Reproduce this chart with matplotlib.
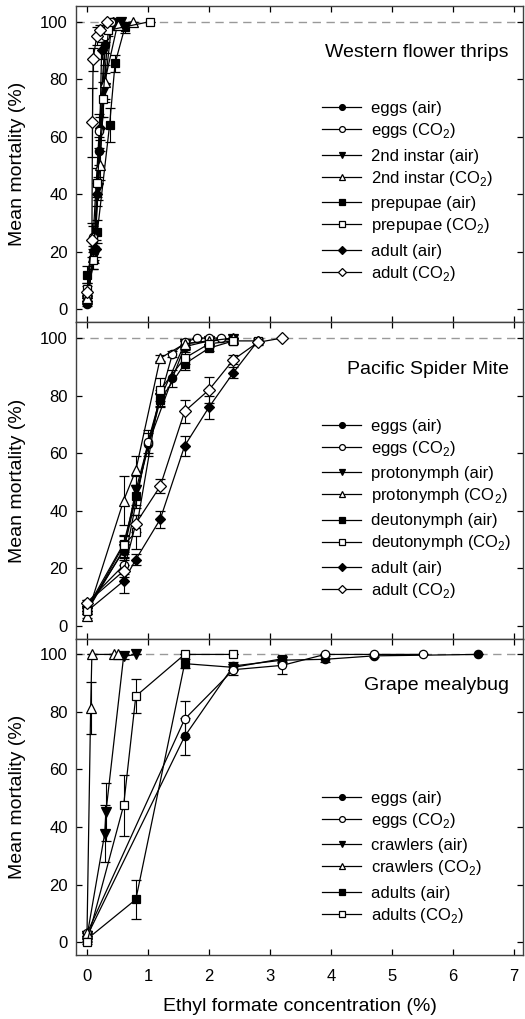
import matplotlib
matplotlib.use("Agg")
from matplotlib import pyplot as plt
from matplotlib.legend import Legend
from matplotlib.lines import Line2D

plt.rcParams['font.family'] = ['Liberation Sans', 'DejaVu Sans']
plt.rcParams['mathtext.fontset'] = 'custom'
plt.rcParams['mathtext.rm'] = 'Liberation Sans'

# ---- Western flower thrips ----
wft_title = 'Western flower thrips'
wft_labels = ['eggs (air)', 'eggs (CO$_2$)', '2nd instar (air)', '2nd instar (CO$_2$)',
              'prepupae (air)', 'prepupae (CO$_2$)', 'adult (air)', 'adult (CO$_2$)']
wft_x = [[0, 0.12, 0.2, 0.3, 0.45],
         [0, 0.1, 0.2, 0.3, 0.4],
         [0, 0.12, 0.18, 0.29, 0.4, 0.55],
         [0, 0.1, 0.21, 0.29, 0.5, 0.75],
         [0, 0.17, 0.37, 0.46, 0.62],
         [0, 0.1, 0.17, 0.26, 0.35, 1.03],
         [0, 0.14, 0.17, 0.21, 0.24, 0.43],
         [0, 0.08, 0.09, 0.1, 0.16, 0.21, 0.32]]
wft_y = [[2, 20, 55, 92, 100],
         [5, 25, 62, 95, 100],
         [3, 19, 42, 77, 98, 100],
         [4, 18, 50, 79, 99, 100],
         [12, 27, 64, 85.5, 98],
         [7, 17, 44, 73, 97, 100],
         [3, 21, 40, 63, 90, 100],
         [6, 24, 65, 87, 95, 97, 100]]
wft_err = [[1, 3, 5, 3, 0],
           [1, 4, 6, 2, 0],
           [1, 3, 4, 5, 1, 0],
           [1, 4, 5, 6, 1, 0],
           [3, 4, 6, 3, 2],
           [2, 3, 5, 6, 2, 0],
           [1, 3, 4, 4, 3, 0],
           [2, 6, 12, 4, 3, 2, 0]]

# ---- Pacific spider mite ----
psm_title = 'Pacific Spider Mite'
psm_labels = ['eggs (air)', 'eggs (CO$_2$)', 'protonymph (air)', 'protonymph (CO$_2$)',
              'deutonymph (air)', 'deutonymph (CO$_2$)', 'adult (air)', 'adult (CO$_2$)']
psm_x = [[0, 0.6, 1.0, 1.4, 1.6, 2.0, 2.4],
         [0, 0.6, 1.0, 1.4, 1.6, 1.8, 2.0, 2.2],
         [0, 0.6, 0.8, 1.2, 1.6, 2.0, 2.4],
         [0, 0.6, 0.8, 1.2, 1.6, 2.0, 2.4],
         [0, 0.6, 0.8, 1.2, 1.6, 2.0, 2.4],
         [0, 0.6, 0.8, 1.2, 1.6, 2.0, 2.4, 2.8],
         [0, 0.6, 0.8, 1.2, 1.6, 2.0, 2.4, 2.8],
         [0, 0.6, 0.8, 1.2, 1.6, 2.0, 2.4, 2.8, 3.2]]
psm_y = [[6, 26, 63, 86, 97, 99, 100],
         [8, 21, 64, 94.5, 98.5, 100, 100, 100],
         [5, 26.5, 47, 79, 98, 99, 99.5],
         [3.5, 43.5, 54, 93, 98, 99, 100],
         [6, 28.5, 45, 78.5, 91, 96.5, 99],
         [5, 28, 32.5, 82, 93, 98, 99, 99],
         [5, 15.5, 23, 37, 62.5, 76, 88, 99],
         [8, 19, 35.5, 48.5, 74.5, 82, 92.5, 98.5, 100]]
psm_err = [[1, 3, 4, 3, 1, 1, 0],
           [1, 3, 4, 1, 1, 0, 0, 0],
           [1, 3, 5, 3, 1, 1, 0],
           [1, 8.5, 5, 1, 1, 1, 0],
           [1, 3, 4, 2, 2, 1, 1],
           [1, 3, 6, 4, 2, 1, 1, 0],
           [1, 4, 2, 3, 3.5, 4, 2, 1],
           [1, 2, 3, 2.5, 4, 4.5, 1.5, 1, 0]]

# ---- Grape mealybug ----
gmb_title = 'Grape mealybug'
gmb_labels = ['eggs (air)', 'eggs (CO$_2$)', 'crawlers (air)', 'crawlers (CO$_2$)',
              'adults (air)', 'adults (CO$_2$)']
gmb_x = [[0, 1.6, 2.4, 3.2, 3.9, 4.7, 6.4],
         [0, 1.6, 2.4, 3.2, 3.9, 4.7, 5.5],
         [0, 0.29, 0.31, 0.6, 0.8],
         [0, 0.06, 0.08, 0.45, 0.5],
         [0, 0.8, 1.6, 2.4, 3.2],
         [0, 0.6, 0.8, 1.6, 2.4]]
gmb_y = [[2, 71.5, 96, 98, 98.3, 99.5, 100],
         [3, 77.5, 94.7, 96.2, 100, 100, 100],
         [2, 37.7, 45.2, 99.3, 100],
         [3, 81.5, 100, 100, 100],
         [1, 14.8, 96.8, 95.5, 98.5],
         [0, 47.5, 85.5, 100, 100]]
gmb_err = [[1, 6.3, 1.5, 1, 1, 0.5, 0],
           [1, 6.2, 2, 3, 0, 0, 0],
           [1, 10, 10, 1, 0],
           [1, 9, 0, 0, 0],
           [1, 6.8, 1.5, 1, 1],
           [0.5, 10.7, 6, 0, 0]]

markers = ['o', 'o', 'v', '^', 's', 's', 'D', 'D']
fills = ['k', 'w', 'k', 'w', 'k', 'w', 'k', 'w']
sizes = [6, 6, 6.5, 6.5, 6, 6, 5.5, 6]

fig = plt.figure(figsize=(5.25, 10.19), dpi=100)

panels = [
    (wft_title, wft_labels, wft_x, wft_y, wft_err, 0.6838, [0.362, 0.513, 0.662, 0.813]),
    (psm_title, psm_labels, psm_x, psm_y, psm_err, 0.3733, [0.366, 0.517, 0.666, 0.817]),
    (gmb_title, gmb_labels, gmb_x, gmb_y, gmb_err, 0.0628, [0.542, 0.691, 0.844]),
]

for i, (title, labels, xs, ys, errs, bottom, groups) in enumerate(panels):
    ax = fig.add_axes([0.1448, bottom, 0.852, 0.3105])
    ax.axhline(100, color='0.6', ls=(0, (6, 4)), lw=1, zorder=1)
    handles = []
    for j in range(len(labels)):
        ax.errorbar(xs[j], ys[j], yerr=errs[j], color='k', lw=0.9,
                    marker=markers[j], ms=sizes[j], mfc=fills[j], mec='k',
                    mew=0.9, elinewidth=0.8, capsize=3.6, capthick=0.8,
                    zorder=3 + (j % 2))
        handles.append(Line2D([], [], color='k', lw=0.9, marker=markers[j],
                              ms=sizes[j], mfc=fills[j], mec='k', mew=0.9))
    ax.set_xlim(-0.18, 7.15)
    ax.set_ylim(-4.5, 105.5)
    ax.set_xticks(range(8))
    ax.set_yticks(range(0, 101, 20))
    ax.tick_params(direction='in', top=True, right=True, length=4,
                   width=0.9, labelsize=12, pad=6)
    ax.tick_params(axis='x', pad=10)
    for s in ax.spines.values():
        s.set_linewidth(1.0)
        s.set_color('0.25')
    if i < 2:
        ax.tick_params(labelbottom=False)
    else:
        ax.set_xlabel('Ethyl formate concentration (%)', fontsize=14, labelpad=10)
    ax.set_ylabel('Mean mortality (%)', fontsize=14, labelpad=10)
    ax.text(0.967, 0.852, title, transform=ax.transAxes, ha='right', va='center',
            fontsize=14)

    # legend entries are grouped in pairs (air / CO2)
    for g, yc in enumerate(groups):
        leg = Legend(ax, handles[2 * g:2 * g + 2], labels[2 * g:2 * g + 2],
                     loc='center left', bbox_to_anchor=(0.55, 1 - yc),
                     frameon=False, fontsize=12, borderpad=0, borderaxespad=0,
                     handlelength=2.35, handletextpad=0.6, labelspacing=0.3,
                     markerscale=0.7)
        ax.add_artist(leg)

fig.savefig('out.png', dpi=100)
